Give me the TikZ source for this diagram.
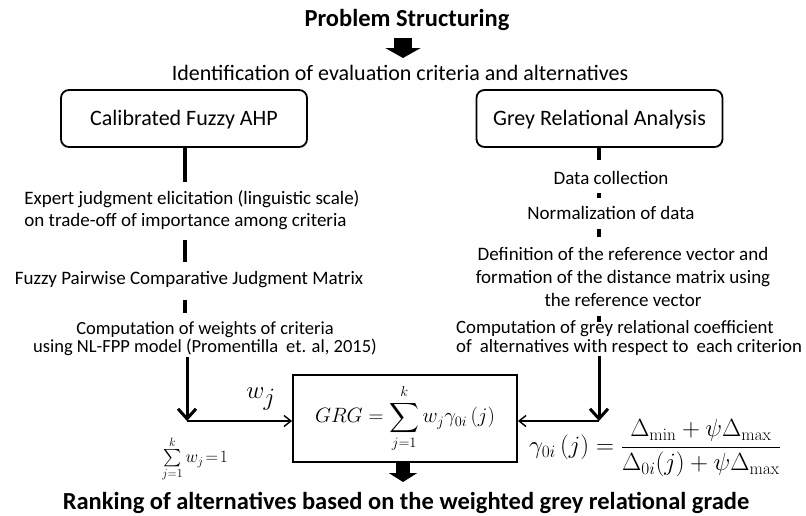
\documentclass[tikz,border=0pt]{standalone}
\usepackage{amsmath}
\usepackage[no-math]{fontspec}
\setmainfont{Carlito}
\usetikzlibrary{arrows.meta}
\newcommand\mytightls{\lineskiplimit=-8pt\relax}
\begin{document}
\begin{tikzpicture}[x=1pt,y=-1pt,
  txt/.style={font=\fontsize{19}{22}\selectfont, inner sep=1pt, text=black},
  headtxt/.style={font=\fontsize{24.5}{28}\selectfont\bfseries, inner sep=1pt},
  rbox/.style={draw, line width=1.8pt, rounded corners=8pt, minimum width=246pt, minimum height=57pt, inner sep=1pt,
    font=\fontsize{22}{26}\selectfont, text height=14pt, text depth=0pt},
  conn/.style={line width=3.5pt},
  bigarrow/.style={line width=3pt, -{Straight Barb[length=10pt,width=18pt]}},
  thinarrow/.style={line width=1.4pt, -{Straight Barb[length=7pt,width=11pt]}},
  blockarrow/.style={line width=18pt, -{Triangle[length=10pt,width=35pt]}},
  mathtxt/.style={font=\fontsize{22}{26}\selectfont, inner sep=1pt}
]
\useasboundingbox[fill=white] (0,0) rectangle (806,515);

% top
\node[headtxt] (ps) at (407,20) {Problem Structuring};
\node[txt, font=\fontsize{22}{26}\selectfont] (id) at (400,73) {Identification of evaluation criteria and alternatives};
\coordinate (ba1) at (403,38);
\coordinate (ba2) at (403,58);
\draw[blockarrow] (ba1) -- (ba2);

% boxes
\node[rbox] (cf) at (184,118.5) {Calibrated Fuzzy AHP};
\node[rbox] (gr) at (599.5,118.5) {Grey Relational Analysis};

% left column
\node[txt, align=left] (e1) at (192,210) {Expert judgment elicitation (linguistic scale)\\on trade-off of importance among criteria};
\node[txt] (fp) at (189,280) {Fuzzy Pairwise Comparative Judgment Matrix};
\node[txt, align=center, font=\fontsize{18.5}{18.3}\selectfont\mytightls] (cw) at (205,339) {Computation of weights of criteria\\using NL-FPP model (Promentilla\hspace{0.2em} et. al, 2015)};

\coordinate (l1) at (185,182);
\coordinate (l2a) at (185,240);
\coordinate (l2b) at (185,262);
\coordinate (l3a) at (185,300);
\coordinate (l3b) at (185,313);
\draw[conn] (cf.south -| l1) -- (l1);
\draw[conn] (l2a) -- (l2b);
\draw[conn] (l3a) -- (l3b);

% right column
\node[txt] (dc) at (611,178) {Data collection};
\node[txt] (nd) at (611,213) {Normalization of data};
\node[txt, align=center, font=\fontsize{19}{23}\selectfont] (dr) at (623,277) {Definition of the reference vector and\\formation of the distance matrix using\\the reference vector};
\node[txt, align=left, font=\fontsize{18.8}{18.3}\selectfont\mytightls] (cg) at (629,338) {Computation of grey relational coefficient\\of\hspace{0.2em} alternatives with respect to\hspace{0.2em} each criterion};

\coordinate (r1) at (599,160);
\coordinate (r2a) at (599,193);
\coordinate (r2b) at (599,197.5);
\coordinate (r3a) at (599,229);
\coordinate (r3b) at (599,237);
\coordinate (r4a) at (599,316);
\coordinate (r4b) at (599,322);
\draw[conn] (gr.south -| r1) -- (r1);
\draw[conn] (r2a) -- (r2b);
\draw[conn] (r3a) -- (r3b);
\draw[conn] (r4a) -- (r4b);

% GRG box
\node[draw, line width=1.8pt, minimum width=224pt, minimum height=87pt, mathtxt] (grg) at (405,418.5)
  {$GRG=\displaystyle\sum_{j=1}^{k} w_j\gamma_{0i}\left(j\right)$};

\coordinate (lc) at (187,421);
\coordinate (rc) at (599,421);
\draw[bigarrow] (cw.south -| lc) -- (lc);
\draw[thinarrow] (lc) -- (grg.west |- lc);
\draw[bigarrow] (cg.south -| rc) -- (rc);
\draw[thinarrow] (rc) -- (grg.east |- rc);

\node[font=\fontsize{34}{34}\selectfont, inner sep=0pt] (wj) at (261,399) {$w_j$};
\node[font=\fontsize{18}{20}\selectfont, inner sep=0pt] (sw) at (195,459) {$\sum\limits_{j=1}^{k} w_j\mkern-3mu=\mkern-3mu1$};
\node[font=\fontsize{26}{30}\selectfont, inner sep=1pt] (gam) at (655,448) {$\gamma_{0i}\left(j\right)=\dfrac{\Delta_{\min}+\psi\Delta_{\max}}{\Delta_{0i}(j)+\psi\Delta_{\max}}$};

% bottom
\node[headtxt, anchor=base] (rk) at (406,509) {Ranking of alternatives based on the weighted grey relational grade};
\coordinate (ba3) at (403,482);
\draw[line width=14pt, -{Triangle[length=9pt,width=28pt]}] (grg.south -| ba3) -- (ba3);
\end{tikzpicture}
\end{document}
